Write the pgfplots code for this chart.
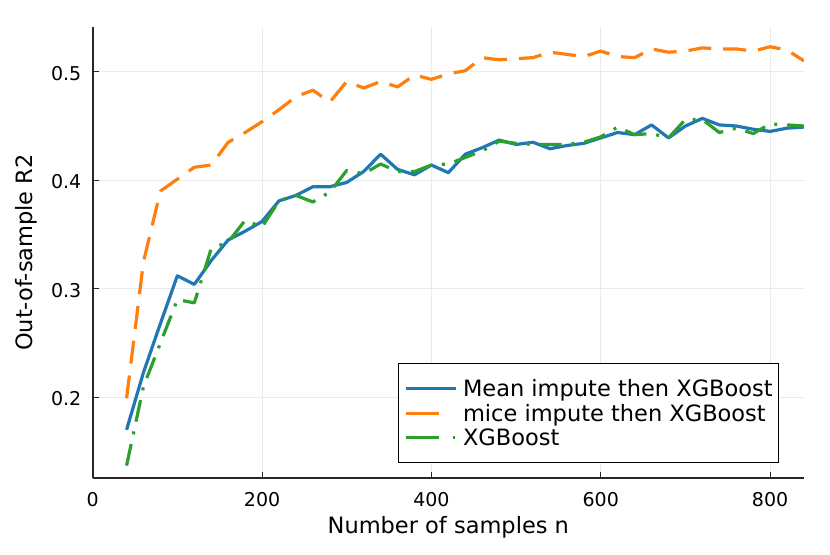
\documentclass[border=0pt]{standalone}
\usepackage{fontspec}
\setmainfont{DejaVu Sans}
\usepackage{pgfplots}
\usepackage{pgfplotstable}
\pgfplotsset{compat=1.18}
\definecolor{c1}{HTML}{1F77B4}
\definecolor{c2}{HTML}{FF7F0E}
\definecolor{c3}{HTML}{2CA02C}

\pgfplotstableread{
n mean mice xgb
40 0.170 0.199 0.137
60 0.223 0.325 0.210
80 0.268 0.390 0.250
100 0.312 0.401 0.290
120 0.304 0.412 0.287
140 0.326 0.414 0.337
160 0.345 0.435 0.343
180 0.353 0.444 0.363
200 0.362 0.454 0.357
220 0.381 0.465 0.381
240 0.386 0.477 0.386
260 0.394 0.483 0.380
280 0.394 0.472 0.389
300 0.398 0.491 0.409
320 0.408 0.485 0.406
340 0.424 0.491 0.415
360 0.410 0.486 0.408
380 0.405 0.497 0.408
400 0.414 0.493 0.414
420 0.407 0.498 0.415
440 0.424 0.501 0.421
460 0.430 0.513 0.427
480 0.437 0.511 0.436
500 0.433 0.512 0.434
520 0.435 0.513 0.433
540 0.429 0.518 0.433
560 0.432 0.516 0.433
580 0.434 0.514 0.435
600 0.439 0.519 0.440
620 0.444 0.514 0.449
640 0.442 0.513 0.442
660 0.451 0.521 0.443
680 0.439 0.518 0.439
700 0.450 0.519 0.456
720 0.457 0.522 0.456
740 0.451 0.521 0.444
760 0.450 0.521 0.448
780 0.447 0.519 0.443
800 0.445 0.523 0.452
820 0.448 0.520 0.451
840 0.449 0.510 0.450
}\data

\begin{document}
\begin{tikzpicture}
\useasboundingbox (0,0) rectangle (415pt,277pt);
\begin{axis}[
  at={(46.35pt,37.85pt)}, anchor=south west,
  scale only axis, width=355.65pt, height=225.8pt,
  xmin=0, xmax=840, ymin=0.1253, ymax=0.5415,
  axis lines*=left,
  axis line style={line width=1pt, black!85},
  tick align=inside, major tick length=3.3pt,
  tick style={line width=0.5pt, black!85},
  grid=major, major grid style={line width=0.5pt, black!8},
  xtick={0,200,400,600,800}, ytick={0.2,0.3,0.4,0.5},
  xticklabels={0,200,400,600,800}, yticklabels={0.2,0.3,0.4,0.5},
  /pgf/number format/assume math mode=true,
  ticklabel style={font=\fontsize{9.5}{11}\selectfont, inner sep=0pt},
  xticklabel style={yshift=-6.7pt},
  yticklabel style={xshift=-5.5pt, yshift=-0.8pt},
  label style={font=\fontsize{11.25}{13}\selectfont},
  xlabel={Number of samples n},
  ylabel={Out-of-sample R2},
  xlabel style={at={(axis description cs:0.5,-0.1218)}, anchor=base},
  ylabel style={at={(axis description cs:-0.0853,0.5)}, anchor=base},
  legend cell align=left,
  legend style={at={(axis description cs:0.9653,0.0332)}, anchor=south east,
    draw=black, line width=0.6pt, fill=white,
    inner xsep=3pt, inner ysep=8.5pt, row sep=4pt, column sep=2.8pt,
    font=\fontsize{11.25}{13}\selectfont,
    nodes={inner sep=0pt, text height=8.2pt, text depth=0pt}},
]
\addplot[c1, line width=1.6pt, line join=round,
  legend image code/.code={\draw[c1,line width=1.5pt] (0pt,0pt) -- (25pt,0pt);}]
  table[x=n,y=mean]{\data};
\addlegendentry{Mean impute then XGBoost}
\addplot[c2, line width=1.6pt, line join=round, dash pattern=on 11.5pt off 6pt,
  legend image code/.code={\draw[c2,line width=1.5pt,dash pattern=on 16.3pt off 10pt] (0pt,0pt) -- (25pt,0pt);}]
  table[x=n,y=mice]{\data};
\addlegendentry{mice impute then XGBoost}
\addplot[c3, line width=1.6pt, line join=round, dash pattern=on 11pt off 5pt on 1.5pt off 5pt,
  legend image code/.code={\draw[c3,line width=1.5pt,dash pattern=on 16.3pt off 7pt on 1pt off 5pt] (0pt,0pt) -- (25pt,0pt);}]
  table[x=n,y=xgb]{\data};
\addlegendentry{XGBoost}
\end{axis}
\end{tikzpicture}
\end{document}
